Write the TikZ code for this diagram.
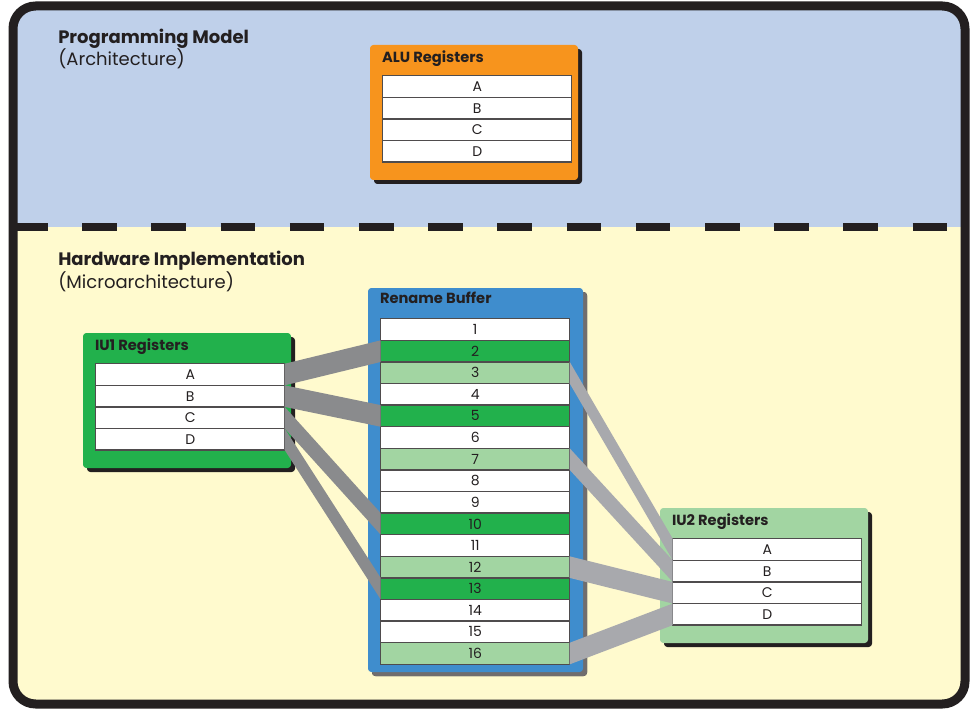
\documentclass[tikz,border=0pt]{standalone}
\usepackage{fontspec}
\setmainfont{Poppins}
\usetikzlibrary{positioning,shadows}
\definecolor{frameblack}{HTML}{231F20}
\definecolor{archblue}{HTML}{BFD0EA}
\definecolor{implyellow}{HTML}{FFFACE}
\definecolor{aluorange}{HTML}{F7941D}
\definecolor{iugreen}{HTML}{22B14C}
\definecolor{iulight}{HTML}{A2D5A2}
\definecolor{rbblue}{HTML}{3F8DCD}
\definecolor{banddark}{HTML}{8A8B8D}
\definecolor{bandlight}{HTML}{A8A9AD}
\tikzset{
    areatitle/.style={anchor=base west, inner sep=0, text=frameblack,
        font=\fontsize{13.5}{15}\selectfont},
    regbox/.style={fill=#1, rounded corners=2.5pt, inner sep=0,
        drop shadow={shadow xshift=3pt, shadow yshift=-3pt, opacity=1, fill=frameblack}},
    boxtitle/.style={anchor=base west, inner sep=0, text=frameblack,
        font=\bfseries\fontsize{11}{12}\selectfont},
    reg/.style={draw=frameblack!80, line width=1pt, fill=#1, text=frameblack,
        minimum width=141.75pt, minimum height=16.2pt, inner sep=0, outer sep=0,
        font=\fontsize{10.5}{11}\selectfont},
    reg/.default=white,
    band/.style={fill=#1, draw=none}
}
% column of registers: #1 name prefix, #2 box, #3 label/colour list
\newcommand{\regcolumn}[3] {
    \foreach \lbl/\clr [count=\k, remember=\lbl as \prev (initially none)] in {#3} {
        \ifnum\k=1
            \node[reg=\clr, anchor=north west] (#1\lbl) at ([shift={(13,31)}]#2.north west) {\lbl};
        \else
            \node[reg=\clr, below=0pt of #1\prev] (#1\lbl) {\lbl};
        \fi
    }
}
% band from the east side of #1 to the west side of #2
\newcommand{\band}[3] {
    \fill[band=#3] (#1.north east) -- (#2.north west) -- (#2.south west) -- (#1.south east) -- cycle;
}
\begin{document}
\begin{tikzpicture}[x=0.75pt, y=-0.75pt]
    \useasboundingbox (0,0) rectangle (975,713);

    % Background areas
    \begin{scope}
        \clip[rounded corners=17pt] (13,6) rectangle (965,704);
        \fill[archblue] (13,6) rectangle (965,227);
        \fill[implyellow] (13,227) rectangle (965,704);
    \end{scope}
    \draw[frameblack, line width=6.75pt, rounded corners=17pt] (13,6) rectangle (965,704);
    \draw[frameblack, line width=6pt, dash pattern=on 25.9pt off 26pt] (13,227) -- (965,227);

    % Area titles
    \node[areatitle, font=\bfseries\fontsize{13.5}{15}\selectfont] (progt) at (58,44) {Programming Model};
    \node[areatitle] (progs) at (58,66) {(Architecture)};
    \node[areatitle, font=\bfseries\fontsize{13.5}{15}\selectfont] (hwt) at (58,266) {Hardware Implementation};
    \node[areatitle] (hws) at (58,288) {(Microarchitecture)};

    % Programming model
    \node[regbox=aluorange, minimum width=156pt, minimum height=101.25pt] (alu) at (474,112.5) {};
    \node[boxtitle] (alut) at ([shift={(12,18)}]alu.north west) {ALU Registers};
    \regcolumn{alu}{alu}{A/white, B/white, C/white, D/white}

    % Hardware implementation
    \node[regbox=iugreen, minimum width=156pt, minimum height=101.25pt] (iu1) at (187,400.5) {};
    \node[boxtitle] (iu1t) at ([shift={(12,18)}]iu1.north west) {IU1 Registers};
    \regcolumn{iu1}{iu1}{A/white, B/white, C/white, D/white}

    \node[regbox=rbblue, minimum width=161.25pt, minimum height=288pt,
        drop shadow={shadow xshift=3pt, shadow yshift=-3pt, opacity=1, fill=frameblack!65}] (rb) at (475.5,480) {};
    \node[boxtitle] (rbt) at ([shift={(12,16)}]rb.north west) {Rename Buffer};
    \regcolumn{rb}{rb}{1/white, 2/iugreen, 3/iulight, 4/white, 5/iugreen, 6/white, 7/iulight, 8/white,
        9/white, 10/iugreen, 11/white, 12/iulight, 13/iugreen, 14/white, 15/white, 16/iulight}

    \node[regbox=iulight, minimum width=156pt, minimum height=101.25pt] (iu2) at (764,575.5) {};
    \node[boxtitle] (iu2t) at ([shift={(12,18)}]iu2.north west) {IU2 Registers};
    \regcolumn{iu2}{iu2}{A/white, B/white, C/white, D/white}

    % Mappings
    \band{iu1A}{rb2}{banddark}
    \band{iu1B}{rb5}{banddark}
    \band{iu1C}{rb10}{banddark}
    \band{iu1D}{rb13}{banddark}
    \band{rb3}{iu2A}{bandlight}
    \band{rb7}{iu2B}{bandlight}
    \band{rb12}{iu2C}{bandlight}
    \band{rb16}{iu2D}{bandlight}
\end{tikzpicture}
\end{document}
